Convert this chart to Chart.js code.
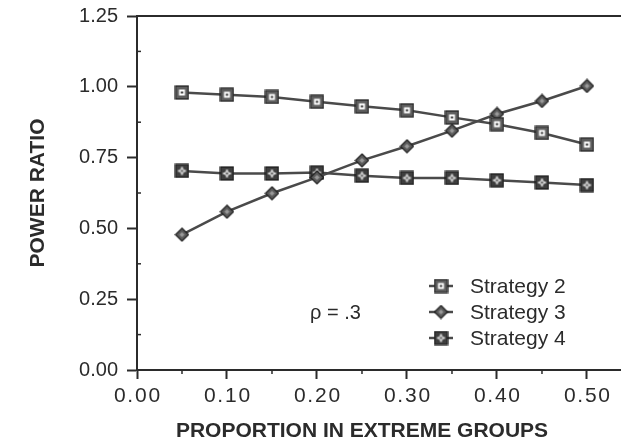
<!DOCTYPE html>
<html lang="en">
<head>
    <meta charset="UTF-8">
    <title>Power Ratio by Proportion in Extreme Groups</title>
    <script src="https://cdn.jsdelivr.net/npm/chart.js"></script>
    <style>
        body { margin: 0; background: #fff; }
        #powerChart { display: block; }
    </style>
</head>
<body>
    <canvas id="powerChart" width="621" height="442"></canvas>
    <script>
        // values
        const proportions = [0.05, 0.10, 0.15, 0.20, 0.25, 0.30, 0.35, 0.40, 0.45, 0.50];
        const strategy2 = [0.980, 0.972, 0.964, 0.947, 0.931, 0.917, 0.892, 0.868, 0.837, 0.796];
        const strategy3 = [0.478, 0.559, 0.624, 0.680, 0.740, 0.790, 0.845, 0.904, 0.950, 1.003];
        const strategy4 = [0.703, 0.694, 0.694, 0.697, 0.686, 0.678, 0.678, 0.670, 0.662, 0.653];
        const seriesNames = ['Strategy 2', 'Strategy 3', 'Strategy 4'];
        const xTickValues = [0, 0.1, 0.2, 0.3, 0.4, 0.5];
        const xMinorTicks = [0.05, 0.15, 0.25, 0.35, 0.45];
        const yMinorTicks = [0.125, 0.375, 0.625, 0.875, 1.125];
        const xTitle = 'PROPORTION IN EXTREME GROUPS';
        const yTitle = 'POWER RATIO';
        const note = 'ρ = .3';

        const ink = '#2b2b2b';
        const lineColor = '#4a4a4a';
        const sans = '"Liberation Sans", Arial, sans-serif';

        // marker images
        function makeMarker(kind) {
            const c = document.createElement('canvas');
            c.width = 15; c.height = 15;
            const g = c.getContext('2d');
            if (kind === 'diamond') {
                g.beginPath();
                g.moveTo(7.5, 1); g.lineTo(14, 7.5); g.lineTo(7.5, 14); g.lineTo(1, 7.5); g.closePath();
                g.fillStyle = '#5c5c5c'; g.fill();
                g.lineWidth = 1.2; g.strokeStyle = '#1e1e1e'; g.stroke();
                g.beginPath();
                g.moveTo(7.5, 5); g.lineTo(10, 7.5); g.lineTo(7.5, 10); g.lineTo(5, 7.5); g.closePath();
                g.fillStyle = '#9a9a9a'; g.fill();
            } else if (kind === 'square') {
                g.fillStyle = '#5e5e5e'; g.fillRect(1, 1, 13, 13);
                g.lineWidth = 1.2; g.strokeStyle = '#1e1e1e'; g.strokeRect(1, 1, 13, 13);
                g.fillStyle = '#ffffff'; g.fillRect(4.5, 4.5, 6, 6);
                g.fillStyle = '#111'; g.fillRect(6.5, 6.5, 2, 2);
            } else {
                g.fillStyle = '#3e3e3e'; g.fillRect(1, 1, 13, 13);
                g.lineWidth = 1.2; g.strokeStyle = '#1a1a1a'; g.strokeRect(1, 1, 13, 13);
                g.fillStyle = '#d8d8d8';
                g.fillRect(6.5, 3.5, 2, 8); g.fillRect(3.5, 6.5, 8, 2);
                g.fillRect(5.5, 5.5, 4, 4);
                g.fillStyle = '#555'; g.fillRect(6.5, 6.5, 2, 2);
            }
            return c;
        }
        const markers = [makeMarker('square'), makeMarker('diamond'), makeMarker('star')];

        function spaced(v) {
            return v.toFixed(2).split('').join('\u200A');
        }

        const extras = {
            id: 'extras',
            afterDraw(chart) {
                const ctx = chart.ctx;
                const x = chart.scales.x;
                const y = chart.scales.y;
                const area = chart.chartArea;
                ctx.save();
                // minor ticks
                ctx.strokeStyle = ink;
                ctx.lineWidth = 1.5;
                xMinorTicks.forEach(v => {
                    const px = x.getPixelForValue(v);
                    ctx.beginPath();
                    ctx.moveTo(px, area.bottom);
                    ctx.lineTo(px, area.bottom + 4);
                    ctx.stroke();
                });
                yMinorTicks.forEach(v => {
                    const py = y.getPixelForValue(v);
                    ctx.beginPath();
                    ctx.moveTo(area.left, py);
                    ctx.lineTo(area.left + 4, py);
                    ctx.stroke();
                });
                // x axis title, centred on the 0 - 0.5 span
                ctx.fillStyle = ink;
                ctx.font = 'bold 21px ' + sans;
                ctx.textAlign = 'center';
                ctx.textBaseline = 'middle';
                const cx = (x.getPixelForValue(0) + x.getPixelForValue(0.5)) / 2;
                ctx.fillText(xTitle, cx, 431);
                // legend
                ctx.font = '21px ' + sans;
                ctx.textAlign = 'left';
                const legX = 441, legY = 286, rowH = 26;
                seriesNames.forEach((name, i) => {
                    const ry = legY + i * rowH;
                    ctx.strokeStyle = lineColor;
                    ctx.lineWidth = 2.5;
                    ctx.beginPath();
                    ctx.moveTo(legX - 12, ry);
                    ctx.lineTo(legX + 12, ry);
                    ctx.stroke();
                    ctx.drawImage(markers[i], legX - 7.5, ry - 7.5);
                    ctx.fillText(name, 470, ry + 1);
                });
                ctx.font = '20px ' + sans;
                ctx.fillText(note, 310, 313);
                ctx.restore();
            }
        };

        const lineStyle = (label, data, i) => ({
            label: label,
            data: proportions.map((p, k) => ({ x: p, y: data[k] })),
            borderColor: lineColor,
            borderWidth: 2.5,
            pointStyle: markers[i],
            pointRadius: 7,
            fill: false,
            tension: 0
        });

        new Chart(document.getElementById('powerChart'), {
            type: 'line',
            data: {
                datasets: [
                    lineStyle(seriesNames[0], strategy2, 0),
                    lineStyle(seriesNames[1], strategy3, 1),
                    lineStyle(seriesNames[2], strategy4, 2)
                ]
            },
            options: {
                responsive: false,
                animation: false,
                events: [],
                layout: { padding: 0, autoPadding: false },
                plugins: {
                    legend: { display: false },
                    tooltip: { enabled: false }
                },
                scales: {
                    x: {
                        type: 'linear',
                        position: 'bottom',
                        min: 0,
                        max: 0.5378,
                        afterBuildTicks: (scale) => { scale.ticks = xTickValues.map(v => ({ value: v })); },
                        afterFit: (scale) => {
                            scale.height = 72;
                            scale.paddingLeft = 0;
                            scale.paddingRight = 0;
                        },
                        ticks: {
                            autoSkip: false,
                            maxRotation: 0,
                            padding: 5,
                            color: ink,
                            font: { family: sans, size: 21 },
                            callback: (v) => spaced(v)
                        },
                        grid: {
                            drawOnChartArea: false,
                            drawTicks: true,
                            tickLength: 9,
                            tickWidth: 2,
                            tickColor: ink
                        },
                        border: { display: true, color: ink, width: 2 }
                    },
                    x2: {
                        type: 'linear',
                        position: 'top',
                        min: 0,
                        max: 0.5378,
                        afterFit: (scale) => {
                            scale.height = 16;
                            scale.paddingLeft = 0;
                            scale.paddingRight = 0;
                        },
                        ticks: { display: false },
                        grid: { drawOnChartArea: false, drawTicks: false },
                        border: { display: true, color: ink, width: 2 }
                    },
                    y: {
                        min: 0,
                        max: 1.25,
                        afterFit: (scale) => {
                            scale.width = 137;
                            scale.paddingTop = 0;
                            scale.paddingBottom = 0;
                        },
                        ticks: {
                            stepSize: 0.25,
                            padding: 9,
                            color: ink,
                            font: { family: sans, size: 20 },
                            callback: (v) => v.toFixed(2)
                        },
                        grid: {
                            drawOnChartArea: false,
                            drawTicks: true,
                            tickLength: 10,
                            tickWidth: 2,
                            tickColor: ink
                        },
                        border: { display: true, color: ink, width: 2 },
                        title: {
                            display: true,
                            text: yTitle,
                            color: ink,
                            padding: { top: 26, bottom: 0 },
                            font: { family: sans, size: 21, weight: 'bold' }
                        }
                    }
                }
            },
            plugins: [extras]
        });
    </script>
</body>
</html>
